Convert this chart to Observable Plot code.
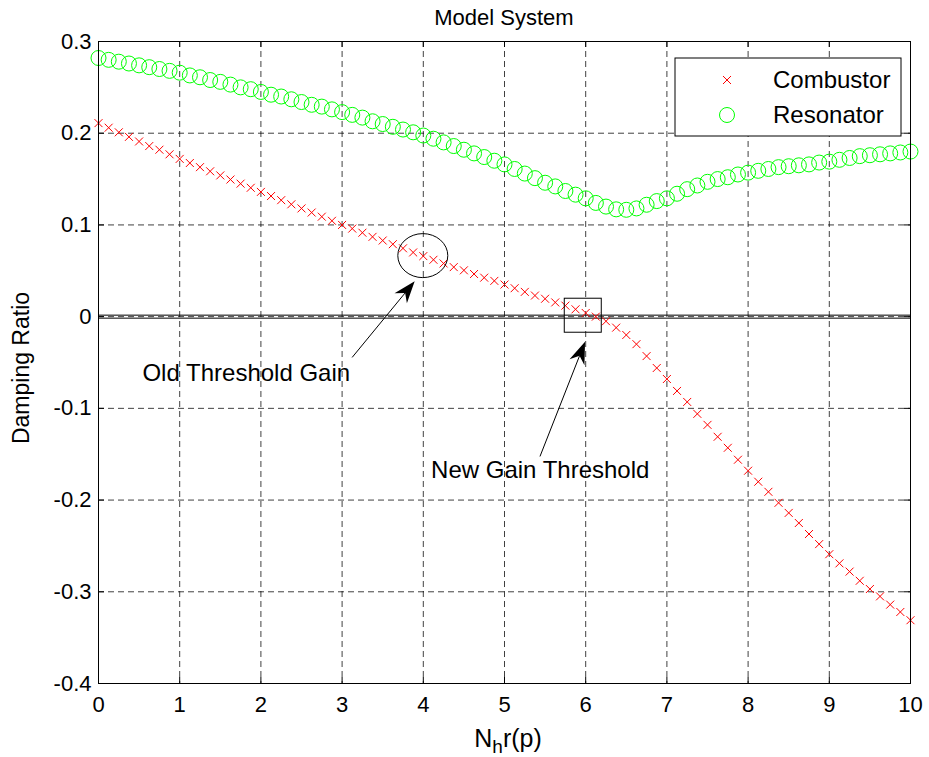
<!DOCTYPE html>
<html><head><meta charset="utf-8">
<script src="https://cdn.jsdelivr.net/npm/d3@7"></script>
<script src="https://cdn.jsdelivr.net/npm/@observablehq/plot@0.6"></script>
<style>body{margin:0;background:#fff}#chart{width:929px;height:757px}</style>
</head><body><div id="chart"></div>
<script>
// ---- data ----
const titleText = "Model System";
const yLabelText = "Damping Ratio";
const seriesNames = ["Combustor", "Resonator"];
const xValues = [0,0.125,0.25,0.375,0.5,0.625,0.75,0.875,1,1.125,1.25,1.375,1.5,1.625,1.75,1.875,2,2.125,2.25,2.375,2.5,2.625,2.75,2.875,3,3.125,3.25,3.375,3.5,3.625,3.75,3.875,4,4.125,4.25,4.375,4.5,4.625,4.75,4.875,5,5.125,5.25,5.375,5.5,5.625,5.75,5.875,6,6.125,6.25,6.375,6.5,6.625,6.75,6.875,7,7.125,7.25,7.375,7.5,7.625,7.75,7.875,8,8.125,8.25,8.375,8.5,8.625,8.75,8.875,9,9.125,9.25,9.375,9.5,9.625,9.75,9.875,10];
const combustor = [0.211,0.206,0.201,0.196,0.191,0.186,0.182,0.177,0.172,0.1675,0.163,0.1585,0.154,0.1495,0.145,0.1405,0.136,0.1315,0.127,0.1225,0.118,0.1135,0.109,0.1045,0.100,0.096,0.0915,0.087,0.083,0.079,0.0745,0.070,0.066,0.062,0.058,0.054,0.0505,0.0465,0.0425,0.039,0.035,0.031,0.027,0.023,0.0195,0.0155,0.012,0.008,0.004,0.000,-0.005,-0.012,-0.020,-0.030,-0.043,-0.056,-0.068,-0.081,-0.093,-0.106,-0.118,-0.131,-0.143,-0.156,-0.168,-0.180,-0.191,-0.203,-0.214,-0.225,-0.237,-0.248,-0.259,-0.269,-0.278,-0.288,-0.297,-0.305,-0.314,-0.322,-0.331];
const resonator = [0.282,0.280,0.278,0.276,0.274,0.272,0.270,0.268,0.266,0.263,0.261,0.258,0.256,0.253,0.250,0.248,0.245,0.242,0.240,0.237,0.234,0.231,0.229,0.226,0.223,0.220,0.217,0.213,0.210,0.207,0.204,0.201,0.1975,0.194,0.190,0.186,0.182,0.178,0.174,0.170,0.166,0.161,0.156,0.151,0.146,0.142,0.137,0.133,0.129,0.124,0.120,0.117,0.1165,0.118,0.122,0.126,0.129,0.134,0.139,0.143,0.147,0.150,0.152,0.155,0.157,0.159,0.161,0.163,0.164,0.165,0.166,0.168,0.169,0.171,0.173,0.175,0.176,0.177,0.178,0.179,0.180];
const xTicks = [0,1,2,3,4,5,6,7,8,9,10];
const xTickLabels = ["0","1","2","3","4","5","6","7","8","9","10"];
const yTicks = [-0.4,-0.3,-0.2,-0.1,0,0.1,0.2,0.3];
const yTickLabels = ["-0.4","-0.3","-0.2","-0.1","0","0.1","0.2","0.3"];
const noteLabels = ["Old Threshold Gain", "New Gain Threshold"];
const noteX = [1.82, 5.44];
const noteY = [-0.062, -0.168];
const ellipseCenter = [4.0, 0.066];
const boxCenter = [5.97, 0.001];
const arrowTailX = [3.13, 5.443];
const arrowTailY = [-0.045, -0.153];
const arrowTipX = [3.9, 5.998];
const arrowTipY = [0.038, -0.028];

// ---- layout ----
const W = 929, H = 757, mL = 98, mR = 19, mT = 41, mB = 74;
const frameW = W - mL - mR, frameH = H - mT - mB;
const FONT = "'Liberation Sans', Arial, Helvetica, sans-serif";

const comb = xValues.map((x, i) => ({x, y: combustor[i]}));
const res = xValues.map((x, i) => ({x, y: resonator[i]}));
const notes = noteLabels.map((t, i) => ({label: t, x: noteX[i], y: noteY[i]}));
const grid = {stroke: "#000", strokeOpacity: 0.75, strokeDasharray: "6,4", strokeWidth: 1};

const plot = Plot.plot({
  width: W, height: H, marginLeft: mL, marginRight: mR, marginTop: mT, marginBottom: mB,
  style: {fontFamily: FONT, fontSize: "22px", background: "#fff", color: "#000", overflow: "visible"},
  x: {domain: [0, 10]},
  y: {domain: [-0.4, 0.3]},
  marks: [
    Plot.gridX(xTicks, grid),
    Plot.gridY(yTicks, grid),
    Plot.ruleY([0], {dy: -1.5, stroke: "#000", strokeWidth: 1}),
    Plot.ruleY([0], {dy: 1.5, stroke: "#000", strokeWidth: 1}),
    Plot.dot(res, {x: "x", y: "y", r: 7.5, stroke: "#00ff00", strokeWidth: 1, fill: "none"}),
    Plot.dot(comb, {x: "x", y: "y", symbol: "times", r: 3.7, stroke: "#ff0000", strokeWidth: 1}),
    Plot.text(notes, {x: "x", y: "y", text: "label", fontSize: 24, fill: "#000"}),
    Plot.frame({stroke: "#000", strokeWidth: 1}),
    Plot.tickX(xTicks, {x: d => d, insetTop: frameH - 6, stroke: "#000"}),
    Plot.tickX(xTicks, {x: d => d, insetBottom: frameH - 6, stroke: "#000"}),
    Plot.tickY(yTicks, {y: d => d, insetRight: frameW - 6, stroke: "#000"}),
    Plot.tickY(yTicks, {y: d => d, insetLeft: frameW - 6, stroke: "#000"}),
    Plot.axisX(xTicks, {tickSize: 0, tickPadding: 13, label: null, tickFormat: d => xTickLabels[xTicks.indexOf(d)]}),
    Plot.axisY(yTicks, {tickSize: 0, tickPadding: 7, label: null, tickFormat: d => yTickLabels[yTicks.indexOf(d)]})
  ]
});

const sx = plot.scale("x"), sy = plot.scale("y");
const svg = d3.select(plot);
const ann = svg.append("g").attr("fill", "none").attr("stroke", "#000").attr("stroke-width", 1);

ann.append("ellipse")
  .attr("cx", sx.apply(ellipseCenter[0])).attr("cy", sy.apply(ellipseCenter[1]))
  .attr("rx", 25).attr("ry", 22);
ann.append("rect")
  .attr("x", sx.apply(boxCenter[0]) - 18.5).attr("y", sy.apply(boxCenter[1]) - 17)
  .attr("width", 37).attr("height", 34);
for (let i = 0; i < arrowTailX.length; i++) {
  const x0 = sx.apply(arrowTailX[i]), y0 = sy.apply(arrowTailY[i]);
  const x1 = sx.apply(arrowTipX[i]), y1 = sy.apply(arrowTipY[i]);
  const L = Math.hypot(x1 - x0, y1 - y0), ux = (x1 - x0) / L, uy = (y1 - y0) / L;
  const nx = -uy, ny = ux;
  const hl = 22, hw = 8, notch = 15;
  ann.append("line").attr("x1", x0).attr("y1", y0).attr("x2", x1 - ux * notch).attr("y2", y1 - uy * notch);
  ann.append("path")
    .attr("fill", "#000").attr("stroke", "none")
    .attr("d", `M${x1},${y1}L${x1 - ux * hl + nx * hw},${y1 - uy * hl + ny * hw}L${x1 - ux * notch},${y1 - uy * notch}L${x1 - ux * hl - nx * hw},${y1 - uy * hl - ny * hw}Z`);
}

svg.append("text").attr("x", mL + frameW / 2).attr("y", 25)
  .attr("text-anchor", "middle").attr("font-size", 22).attr("font-family", FONT).attr("fill", "#000")
  .text(titleText);
svg.append("text").attr("transform", `translate(29,${mT + frameH / 2 + 6}) rotate(-90)`)
  .attr("text-anchor", "middle").attr("font-size", 23).attr("font-family", FONT).attr("fill", "#000")
  .text(yLabelText);
const xl = svg.append("text").attr("x", mL + frameW / 2 + 4).attr("y", 747)
  .attr("text-anchor", "middle").attr("font-size", 25).attr("font-family", FONT).attr("fill", "#000");
xl.append("tspan").text("N");
xl.append("tspan").attr("dy", 6).attr("font-size", 19).text("h");
xl.append("tspan").attr("dy", -6).text("r(p)");

const lg = svg.append("g");
lg.append("rect").attr("x", 675).attr("y", 58).attr("width", 226).attr("height", 78)
  .attr("fill", "#fff").attr("stroke", "#000").attr("stroke-width", 1);
lg.append("path").attr("d", "M723,76L731,84M723,84L731,76").attr("stroke", "#ff0000").attr("stroke-width", 1);
lg.append("circle").attr("cx", 727).attr("cy", 115).attr("r", 7.5).attr("fill", "none").attr("stroke", "#00ff00").attr("stroke-width", 1);
lg.append("text").attr("x", 773).attr("y", 88).attr("text-anchor", "start").attr("font-size", 24).attr("font-family", FONT).attr("fill", "#000").text(seriesNames[0]);
lg.append("text").attr("x", 773).attr("y", 123).attr("text-anchor", "start").attr("font-size", 24).attr("font-family", FONT).attr("fill", "#000").text(seriesNames[1]);

document.getElementById("chart").appendChild(plot);
</script>
</body></html>
